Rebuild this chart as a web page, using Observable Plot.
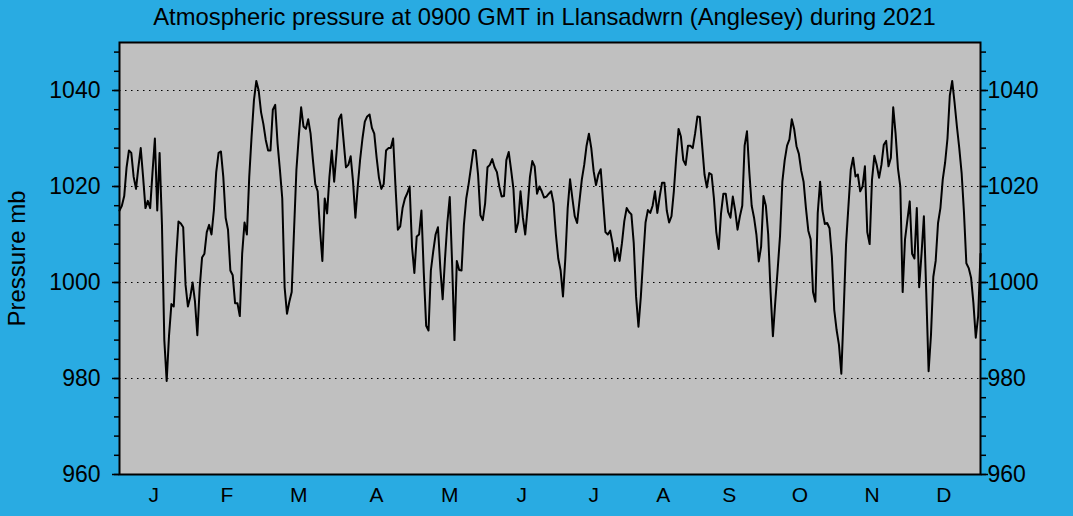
<!DOCTYPE html>
<html>
<head>
<meta charset="utf-8">
<script src="https://cdn.jsdelivr.net/npm/d3@7"></script>
<script src="https://cdn.jsdelivr.net/npm/@observablehq/plot@0.6"></script>
<style>
  html, body { margin: 0; padding: 0; background: #29abe2; }
  #wrap { width: 1073px; height: 516px; overflow: hidden; }
  #title { height: 30px; box-sizing: border-box; padding-top: 5px; padding-left: 16px; text-align: center;
           font: 23.8px "Liberation Sans", Arial, sans-serif; line-height: 24px; color: #000; white-space: nowrap; }
  svg { display: block; }
</style>
</head>
<body>
<div id="wrap">
  <div id="title">Atmospheric pressure at 0900 GMT in Llansadwrn (Anglesey) during 2021</div>
  <div id="chart"></div>
</div>
<script>
// Daily pressure (mb) at 0900 GMT, 1 Jan 2021 ... 1 Jan 2022
const pressure = [
  1015, 1016, 1018, 1024, 1027.5, 1027, 1022, 1019.5, 1024, 1028,
  1022, 1015.5, 1017, 1015.5, 1023, 1030, 1015, 1027, 1012, 988,
  979.5, 989, 995.5, 995, 1005, 1012.7, 1012.3, 1011.5, 999.5, 995,
  997, 1000, 996, 989, 999, 1005.2, 1006, 1010.5, 1012, 1010,
  1015, 1023, 1027, 1027.3, 1022, 1013.5, 1011, 1002.5, 1001.5, 995.7,
  995.7, 993, 1006, 1012.5, 1010, 1022, 1030.5, 1038, 1042, 1040,
  1035.5, 1033, 1029.7, 1027.5, 1027.5, 1036, 1037, 1029, 1023.5, 1017.5,
  999, 993.5, 996, 998, 1011, 1023.5, 1030.4, 1036.5, 1032.5, 1032,
  1034, 1031, 1025.5, 1020.5, 1019, 1011, 1004.5, 1017.5, 1014.4, 1022,
  1027.5, 1021, 1027, 1034, 1035, 1029.5, 1024, 1024.5, 1026.3, 1021,
  1013.5, 1020, 1025.6, 1030, 1033.5, 1034.6, 1035, 1032.2, 1031, 1026,
  1021.8, 1019.5, 1020.5, 1027.5, 1028, 1028, 1030, 1020, 1011, 1011.7,
  1015.5, 1017.5, 1018.6, 1020, 1007.5, 1002, 1009.6, 1010, 1015, 1002,
  991, 990, 1002.5, 1006.5, 1010, 1011.5, 1003, 996.5, 1005, 1012.5,
  1017.8, 1004, 988, 1004.5, 1002.6, 1002.5, 1012, 1017.5, 1020.5, 1024,
  1027.6, 1027.5, 1022.5, 1014, 1013, 1016.5, 1024, 1024.5, 1025.7, 1024,
  1023, 1020, 1017.9, 1018, 1025.5, 1027.2, 1023.5, 1019.5, 1010.5, 1012.5,
  1019, 1013.5, 1010, 1015.5, 1022, 1025.3, 1024.2, 1018.5, 1020, 1019,
  1017.7, 1017.9, 1018.5, 1019, 1016.5, 1010, 1005, 1002.5, 997.1, 1005,
  1015.5, 1021.5, 1017.5, 1013.8, 1012.4, 1017, 1021.5, 1024.5, 1028.5, 1031,
  1028, 1023.2, 1020.3, 1022.5, 1023.6, 1017, 1010.5, 1010, 1010.8, 1008.2,
  1004.5, 1007.2, 1004.5, 1008.2, 1012.8, 1015.5, 1014.7, 1014.2, 1008.2, 997,
  990.8, 997, 1005, 1012.5, 1015.1, 1014.5, 1016, 1019, 1014.5, 1017.9,
  1020.8, 1020.8, 1015, 1012.5, 1013.8, 1019, 1026, 1032, 1030.4, 1025.5,
  1024.5, 1028.5, 1028.5, 1028, 1031, 1034.6, 1034.5, 1028.5, 1022.5, 1019.8,
  1022.8, 1022.5, 1017.5, 1010.5, 1007, 1014.4, 1018.5, 1018.5, 1014.7, 1013.5,
  1017.9, 1015, 1011, 1013.8, 1016, 1028.5, 1031.5, 1023, 1016, 1013.5,
  1010, 1004.4, 1007.5, 1018, 1016, 1010, 998, 988.8, 996, 1002.6,
  1009.6, 1021, 1025.5, 1028.5, 1029.8, 1034, 1032, 1028.4, 1026.8, 1023.3,
  1021, 1015.5, 1010.8, 1009, 998, 996, 1014.5, 1021, 1015, 1012.2,
  1012.4, 1011.3, 1005.4, 994.3, 990.1, 987, 981, 994, 1008, 1015.8,
  1023.5, 1026, 1022.1, 1022.5, 1019, 1020, 1024.2, 1010.5, 1008, 1021.4,
  1026.4, 1024.5, 1021.8, 1024.5, 1028.7, 1029.5, 1024.2, 1026, 1036.5, 1031,
  1023.8, 1020, 998, 1009, 1013, 1016.9, 1006, 1005, 1015.5, 999,
  1006, 1013.8, 998, 981.5, 989, 1001.2, 1004.5, 1012.4, 1015.5, 1021.5,
  1025, 1030, 1039, 1042, 1037.5, 1032.5, 1028, 1022.8, 1014.5, 1004,
  1003, 1001, 995.7, 988.5, 993, 1006
];
const monthLabels = ["J","F","M","A","M","J","J","A","S","O","N","D"];
const monthLabelDays = [14.5, 45.5, 76, 109, 140, 170.5, 201, 230.5, 258.5, 288.5, 319, 349.5];
const majorTicks = [960, 980, 1000, 1020, 1040];
const gridValues = [980, 1000, 1020, 1040];
const minorTicks = d3.range(960, 1051, 4);

const data = pressure.map((p, i) => ({day: i, p}));
const labelMap = new Map(monthLabelDays.map((d, i) => [d, monthLabels[i]]));

const titleH = 30;
const chart = Plot.plot({
  width: 1073,
  height: 516 - titleH,
  marginLeft: 119,
  marginRight: 93,
  marginTop: 42 - titleH,
  marginBottom: 42,
  x: {domain: [0, 365]},
  y: {domain: [960, 1050]},
  style: {background: "transparent", fontFamily: "'Liberation Sans', Arial, sans-serif", fontSize: "23px", color: "#000", overflow: "visible"},
  marks: [
    Plot.frame({fill: "#c0c0c0", stroke: null}),
    Plot.gridY(gridValues, {stroke: "#000", strokeOpacity: 1, strokeWidth: 1, strokeDasharray: "1.5,4.5"}),
    Plot.line(data, {x: "day", y: "p", stroke: "#000", strokeWidth: 2}),
    Plot.frame({stroke: "#000", strokeWidth: 2}),
    Plot.axisY({anchor: "left", ticks: minorTicks, tickSize: 5, tickFormat: () => "", label: null, strokeWidth: 1.5}),
    Plot.axisY({anchor: "right", ticks: minorTicks, tickSize: 5, tickFormat: () => "", label: null, strokeWidth: 1.5}),
    Plot.axisY({anchor: "left", ticks: majorTicks, tickSize: 7, tickPadding: 12, tickFormat: d => String(d), fontSize: 23, label: null, strokeWidth: 1.5}),
    Plot.axisY({anchor: "right", ticks: majorTicks, tickSize: 7, tickPadding: 0, tickFormat: d => String(d), fontSize: 23, label: null, strokeWidth: 1.5}),
    Plot.axisX({ticks: monthLabelDays, tickFormat: d => labelMap.get(d), tickSize: 0, tickPadding: 13, fontSize: 21, label: null}),
    Plot.text(["Pressure mb"], {frameAnchor: "left", dx: -102, rotate: -90, textAnchor: "middle", text: d => d, fontSize: 24, fill: "#000"})
  ]
});
document.getElementById("chart").appendChild(chart);
</script>
</body>
</html>
